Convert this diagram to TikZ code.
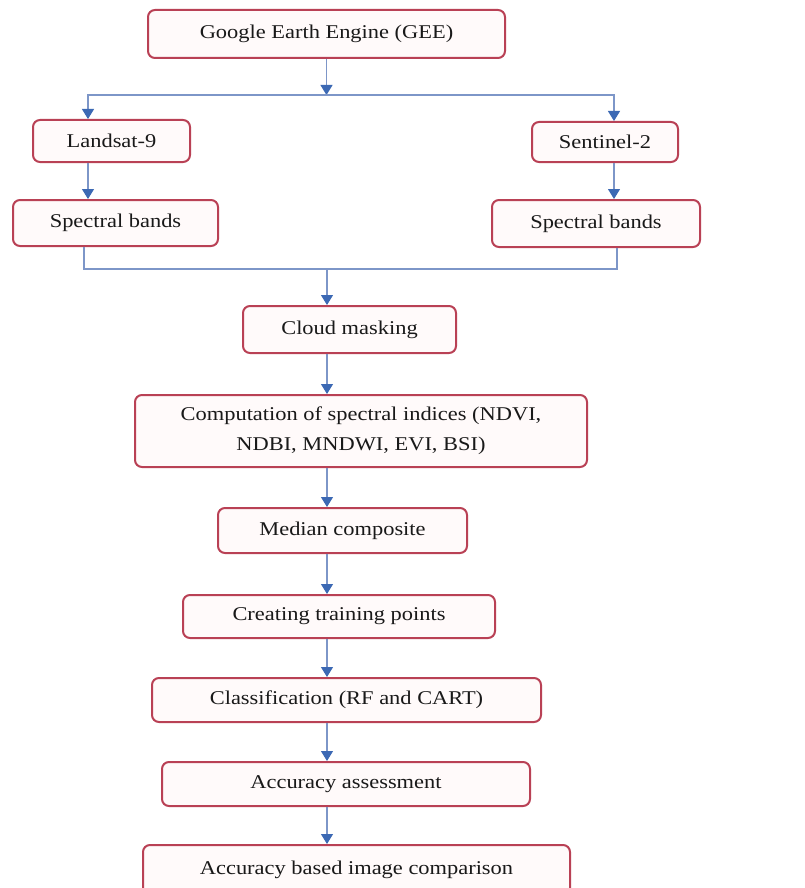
\documentclass[tikz,border=0pt]{standalone}
\usepackage{fontspec}
\setmainfont{Liberation Serif}[FakeStretch=1.15]
\usepackage{xcolor}
\usepackage{tikz}
\usetikzlibrary{arrows.meta, positioning, calc}

\definecolor{boxred}{RGB}{185,65,85}
\definecolor{boxfill}{RGB}{255,250,250}
\definecolor{linkblue}{RGB}{125,150,200}
\definecolor{tipblue}{RGB}{60,105,180}
\definecolor{inkgray}{RGB}{25,25,25}

\tikzset{
  box/.style={draw=boxred, line width=2pt, fill=boxfill, rounded corners=7pt,
    inner sep=0pt, align=center, text=inkgray,
    font=\fontsize{19.5}{30}\selectfont},
  link/.style={draw=linkblue, line width=1.1pt},
  flow/.style={link, -{Triangle[width=12pt,length=10pt,color=tipblue]}}
}

\begin{document}
\begin{tikzpicture}[x=1pt, y=-1pt]
  \useasboundingbox (0,0) rectangle (804,888);
  \fill[white] (0,0) rectangle (804,888);

  % columns of the connectors
  \coordinate (lcol) at (88,0);
  \coordinate (rcol) at (614,0);
  \coordinate (lbot) at (84,0);
  \coordinate (rbot) at (617,0);
  \coordinate (axis) at (327,0);

  % boxes
  \node[box, minimum width=357pt, minimum height=48pt] (gee) at (326.5,34) {Google Earth Engine (GEE)};
  \node[box, minimum width=157pt, minimum height=42pt] (landsat) at (111.5,141) {Landsat-9};
  \node[box, minimum width=146pt, minimum height=40pt] (sentinel) at (605,142) {Sentinel-2};
  \node[box, minimum width=205pt, minimum height=46pt] (specL) at (115.5,223) {Spectral bands};
  \node[box, minimum width=208pt, minimum height=47pt] (specR) at (596,223.5) {Spectral bands};
  \node[box, minimum width=213pt, minimum height=47pt] (cloud) at (349.5,329.5) {Cloud masking};
  \node[box, minimum width=452pt, minimum height=72pt] (comp) at (361,431)
    {Computation of spectral indices (NDVI,\\NDBI, MNDWI, EVI, BSI)};
  \node[box, minimum width=249pt, minimum height=45pt] (median) at (342.5,530.5) {Median composite};
  \node[box, minimum width=312pt, minimum height=43pt] (train) at (339,616.5) {Creating training points};
  \node[box, minimum width=389pt, minimum height=44pt] (classif) at (346.5,700) {Classification (RF and CART)};
  \node[box, minimum width=368pt, minimum height=44pt] (accass) at (346,784) {Accuracy assessment};
  \node[box, minimum width=427pt, minimum height=50pt] (accimg) at (356.5,870) {Accuracy based image comparison};

  % split below GEE
  \coordinate (split) at (gee.south |- 0,95);
  \draw[flow] (gee.south) -- (split);
  \draw[flow] (split) -| (landsat.north -| lcol);
  \draw[flow] (split) -| (sentinel.north -| rcol);
  \draw[flow] (landsat.south -| lcol) -- (specL.north -| lcol);
  \draw[flow] (sentinel.south -| rcol) -- (specR.north -| rcol);

  % join of the two band sets
  \coordinate (join) at (axis |- 0,269);
  \draw[link] (specL.south -| lbot) |- (join) -| (specR.south -| rbot);
  \draw[flow] (join) -- (cloud.north -| axis);

  % main chain
  \draw[flow] (cloud.south -| axis) -- (comp.north -| axis);
  \draw[flow] (comp.south -| axis) -- (median.north -| axis);
  \draw[flow] (median.south -| axis) -- (train.north -| axis);
  \draw[flow] (train.south -| axis) -- (classif.north -| axis);
  \draw[flow] (classif.south -| axis) -- (accass.north -| axis);
  \draw[flow] (accass.south -| axis) -- (accimg.north -| axis);
\end{tikzpicture}
\end{document}
